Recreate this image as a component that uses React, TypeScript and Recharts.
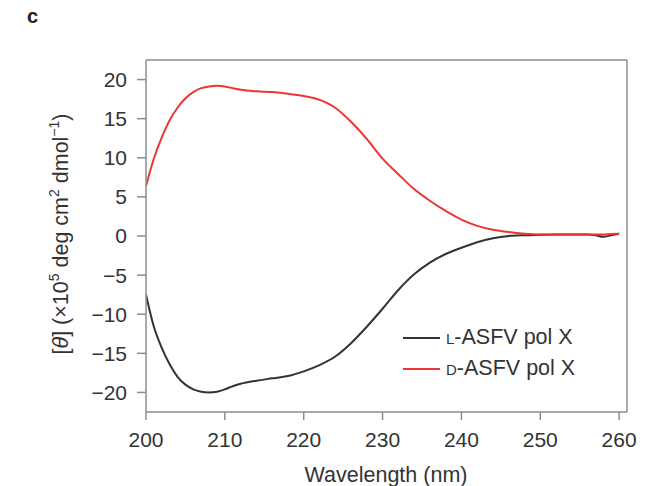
import { LineChart, Line, XAxis, YAxis, ReferenceLine } from "recharts";

// wavelength (nm)
const wavelength = [
  200, 201, 202, 203, 204, 205, 206, 207, 208, 209, 210, 211, 212, 214, 216, 218, 220, 222, 224, 226,
  228, 230, 232, 234, 236, 238, 240, 242, 244, 246, 248, 250, 252, 254, 256, 257, 258, 259, 260,
];
// L-ASFV pol X
const lForm = [
  -7.5, -11.6, -14.3, -16.4, -18.0, -19.0, -19.6, -19.9, -20.0, -19.9, -19.6, -19.2, -18.9, -18.5,
  -18.2, -17.9, -17.3, -16.5, -15.4, -13.7, -11.6, -9.3, -6.9, -4.9, -3.4, -2.3, -1.5, -0.8, -0.3,
  0.0, 0.1, 0.15, 0.2, 0.2, 0.2, 0.1, -0.1, 0.1, 0.3,
];
// D-ASFV pol X
const dForm = [
  6.4, 9.9, 12.6, 14.8, 16.4, 17.6, 18.4, 18.9, 19.1, 19.2, 19.1, 18.9, 18.7, 18.5, 18.4, 18.2, 17.9,
  17.4, 16.4, 14.6, 12.4, 9.9, 7.9, 6.0, 4.5, 3.2, 2.1, 1.3, 0.8, 0.5, 0.3, 0.2, 0.2, 0.2, 0.2, 0.2,
  0.2, 0.25, 0.3,
];
const xTicks = [200, 210, 220, 230, 240, 250, 260];
const yTicks = [-20, -15, -10, -5, 0, 5, 10, 15, 20];

const data = wavelength.map((w, i) => ({ w, l: lForm[i], d: dForm[i] }));

const font = '"Liberation Sans", Arial, sans-serif';
const axisGray = "#8c8c8c";
const textColor = "#333";
const lColor = "#333333";
const dColor = "#ee3535";

const legendItems = [
  { key: "L", color: lColor },
  { key: "D", color: dColor },
];

export default function App() {
  return (
    <div style={{ position: "absolute", left: 0, top: 0, width: 652, height: 486, background: "#fff", fontFamily: font }}>
      <div style={{ position: "absolute", left: 27, top: 5, fontSize: 20, fontWeight: "bold", color: "#222" }}>c</div>
      <LineChart width={652} height={486} data={data} margin={{ top: 60, right: 25, left: 0, bottom: 0 }}>
        <XAxis
          dataKey="w"
          type="number"
          domain={[200, 261]}
          ticks={xTicks}
          allowDataOverflow
          height={74}
          stroke={axisGray}
          strokeWidth={1.5}
          tickSize={8}
          tickMargin={12}
          tick={{ fill: textColor, fontSize: 21, fontFamily: font }}
        />
        <YAxis
          type="number"
          domain={[-22.5, 22.5]}
          ticks={yTicks}
          allowDataOverflow
          width={146}
          stroke={axisGray}
          strokeWidth={1.5}
          tickSize={9}
          tickMargin={10}
          tickFormatter={(v: number) => String(v).replace("-", "\u2212")}
          tick={{ fill: textColor, fontSize: 21, fontFamily: font }}
        />
        <ReferenceLine y={22.5} stroke={axisGray} strokeWidth={1.5} />
        <ReferenceLine x={261} stroke={axisGray} strokeWidth={1.5} />
        <Line dataKey="l" type="monotone" stroke={lColor} strokeWidth={2} dot={false} isAnimationActive={false} />
        <Line dataKey="d" type="monotone" stroke={dColor} strokeWidth={2} dot={false} isAnimationActive={false} />
      </LineChart>
      <div style={{ position: "absolute", left: 403, top: 322, fontSize: 21.5, color: textColor }}>
        {legendItems.map((it) => (
          <div key={it.key} style={{ display: "flex", alignItems: "center", height: 31 }}>
            <svg width={40} height={10} style={{ marginRight: 3 }}>
              <line x1={0} x2={37} y1={5} y2={5} stroke={it.color} strokeWidth={2} />
            </svg>
            <span>
              <span style={{ fontSize: 15 }}>{it.key}</span>-ASFV pol X
            </span>
          </div>
        ))}
      </div>
      <div
        style={{
          position: "absolute",
          left: 60,
          top: 234,
          transform: "translate(-50%, -50%) rotate(-90deg)",
          whiteSpace: "nowrap",
          fontSize: 21.5,
          color: textColor,
        }}
      >
        [<i>θ</i>] (×10<sup style={{ fontSize: 14 }}>5</sup> deg cm<sup style={{ fontSize: 14 }}>2</sup> dmol
        <sup style={{ fontSize: 14 }}>−1</sup>)
      </div>
      <div
        style={{
          position: "absolute",
          left: 386,
          top: 475,
          transform: "translate(-50%, -50%)",
          whiteSpace: "nowrap",
          fontSize: 21.5,
          color: textColor,
        }}
      >
        Wavelength (nm)
      </div>
    </div>
  );
}
